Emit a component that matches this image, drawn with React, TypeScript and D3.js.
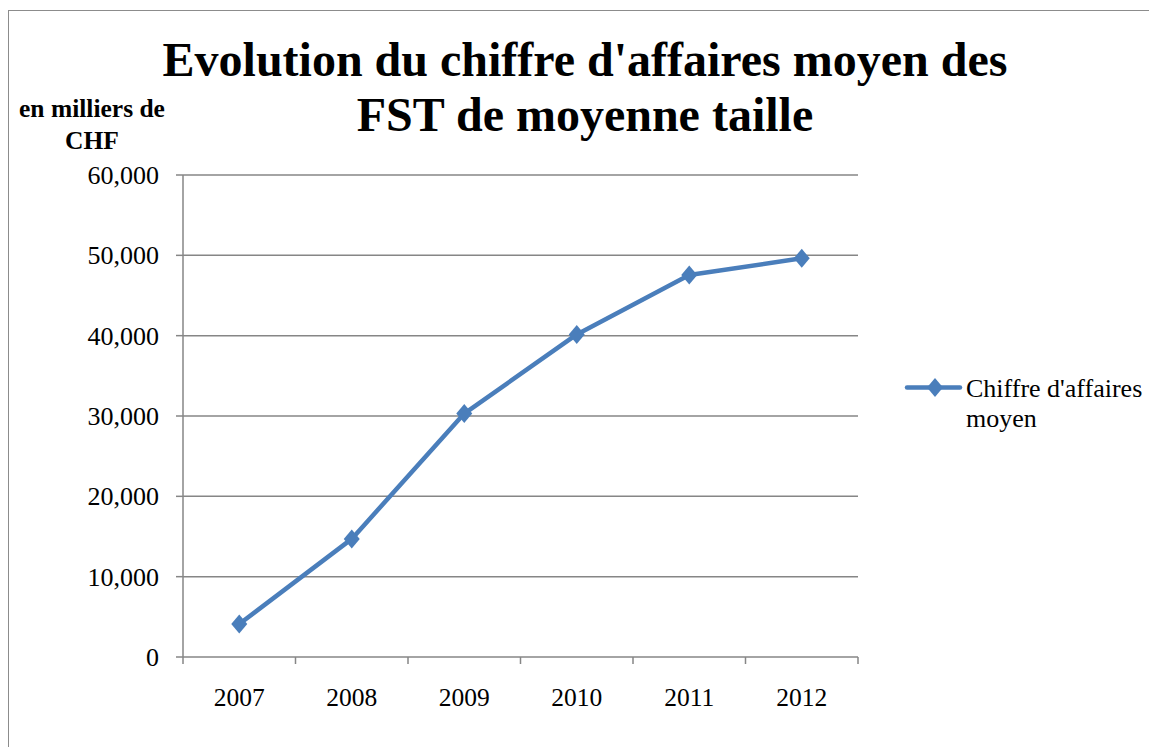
import React from "react";
import * as d3 from "d3";

const years = ["2007", "2008", "2009", "2010", "2011", "2012"];
const values = [4100, 14700, 30300, 40150, 47550, 49630];
const yTicks = [0, 10000, 20000, 30000, 40000, 50000, 60000];
const titleLines = ["Evolution du chiffre d'affaires moyen des", "FST de moyenne taille"];
const yLabelLines = ["en milliers de", "CHF"];
const seriesName = ["Chiffre d'affaires", "moyen"];

const W = 1149, H = 747;
const left = 183, right = 858, top = 175, bottom = 657;
const color = "#4a7ebb";
const grid = "#868686";
const font = "'Liberation Serif', 'Times New Roman', serif";

export default function App() {
  const x = d3.scaleBand<string>().domain(years).range([left, right]);
  const y = d3.scaleLinear().domain([0, 60000]).range([bottom, top]);
  const line = d3.line<number>().x((_, i) => (x(years[i]) as number) + x.bandwidth() / 2).y((d) => y(d));
  const fmt = d3.format(",");
  const diamond = (cx: number, cy: number, rx = 8, ry = 9.5) => `M${cx},${cy - ry}L${cx + rx},${cy}L${cx},${cy + ry}L${cx - rx},${cy}Z`;
  const tickXs = [left, ...years.map((yr) => (x(yr) as number) + x.bandwidth())];
  return (
    <svg width={W} height={H} style={{ position: "absolute", left: 0, top: 0 }} fontFamily={font}>
      <rect x={0} y={0} width={W} height={H} fill="#fff" />
      <rect x={8.5} y={10.5} width={1300} height={1000} fill="none" stroke="#8c8c8c" strokeWidth={1} />
      {titleLines.map((t, i) => (
        <text key={i} x={585} y={76 + i * 55} textAnchor="middle" fontSize={48} fontWeight="bold" fill="#000">{t}</text>
      ))}
      {yLabelLines.map((t, i) => (
        <text key={i} x={92} y={117 + i * 32} textAnchor="middle" fontSize={25.5} fontWeight="bold" fill="#000">{t}</text>
      ))}
      {yTicks.map((v) => (
        <g key={v}>
          {v > 0 && <line x1={left} x2={right} y1={y(v)} y2={y(v)} stroke={grid} strokeWidth={1.5} />}
          <line x1={left - 7} x2={left} y1={y(v)} y2={y(v)} stroke={grid} strokeWidth={1.5} />
          <text x={159} y={y(v)} dy="0.35em" textAnchor="end" fontSize={26} fill="#000">{fmt(v)}</text>
        </g>
      ))}
      <line x1={left} x2={left} y1={top} y2={bottom} stroke={grid} strokeWidth={1.5} />
      <line x1={left} x2={right} y1={bottom} y2={bottom} stroke={grid} strokeWidth={1.5} />
      {tickXs.map((tx, i) => (
        <line key={i} x1={tx} x2={tx} y1={bottom} y2={bottom + 7} stroke={grid} strokeWidth={1.5} />
      ))}
      {years.map((yr) => (
        <text key={yr} x={(x(yr) as number) + x.bandwidth() / 2} y={697} dy="0.35em" textAnchor="middle" fontSize={25.5} fill="#000">{yr}</text>
      ))}
      <path d={line(values) || ""} fill="none" stroke={color} strokeWidth={4.5} strokeLinejoin="round" />
      {values.map((v, i) => (
        <path key={i} d={diamond((x(years[i]) as number) + x.bandwidth() / 2, y(v))} fill={color} />
      ))}
      <line x1={907} x2={960} y1={387.5} y2={387.5} stroke={color} strokeWidth={4.5} strokeLinecap="round" />
      <path d={diamond(935, 387.5)} fill={color} />
      {seriesName.map((t, i) => (
        <text key={i} x={966} y={397 + i * 30} fontSize={26} fill="#000">{t}</text>
      ))}
    </svg>
  );
}
